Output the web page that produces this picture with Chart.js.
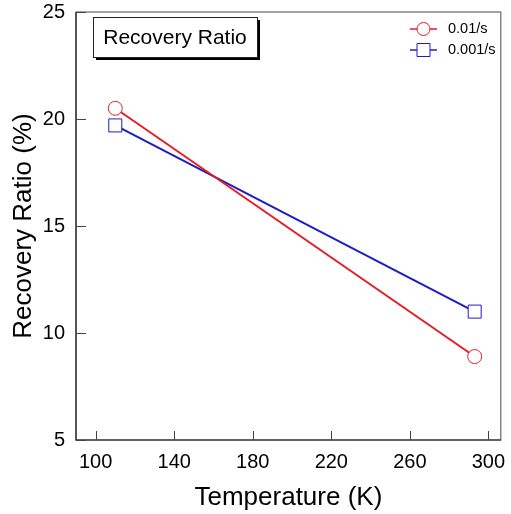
<!DOCTYPE html>
<html><head><meta charset="utf-8">
<script src="https://cdn.jsdelivr.net/npm/chart.js@4"></script>
<style>html,body{margin:0;padding:0;background:#fff}#wrap{width:511px;height:514px}</style>
</head><body><div id="wrap"><canvas id="c" width="511" height="514"></canvas></div>
<script>
const temperatures = [110, 293];
const series001 = [20.5, 8.9];   // 0.01/s
const series0001 = [19.7, 11.0]; // 0.001/s
const seriesNames = ['0.01/s', '0.001/s'];
const xTicks = [100, 140, 180, 220, 260, 300];
const yTicks = [5, 10, 15, 20, 25];
const panelLabel = 'Recovery Ratio';

const RED = 'rgb(228,28,36)', BLUE = 'rgb(28,28,200)';
const FONT = '"Liberation Sans", Arial, sans-serif';

const framePlugin = {
  id: 'frame',
  afterDraw(chart) {
    const {ctx, chartArea: a, scales: {x, y}} = chart;
    ctx.save();
    ctx.strokeStyle = '#666'; ctx.lineWidth = 1.2;
    ctx.strokeRect(a.left, a.top, a.right - a.left, a.bottom - a.top);
    ctx.strokeStyle = '#222';
    ctx.beginPath();
    ctx.moveTo(a.left, a.top); ctx.lineTo(a.left, a.bottom); ctx.lineTo(a.right, a.bottom);
    ctx.stroke();
    // inward ticks
    ctx.strokeStyle = '#444'; ctx.lineWidth = 1;
    ctx.beginPath();
    xTicks.forEach(v => { const px = Math.round(x.getPixelForValue(v)) + 0.5; ctx.moveTo(px, a.bottom); ctx.lineTo(px, a.bottom - 9); });
    yTicks.forEach(v => { const py = Math.round(y.getPixelForValue(v)) + 0.5; ctx.moveTo(a.left, py); ctx.lineTo(a.left + 10, py); });
    ctx.stroke();
    // panel label box with shadow
    const bx = 93, by = 17, bw = 164, bh = 40;
    ctx.fillStyle = '#000'; ctx.fillRect(bx + 3, by + 3, bw, bh);
    ctx.fillStyle = '#fff'; ctx.fillRect(bx, by, bw, bh);
    ctx.strokeStyle = '#222'; ctx.lineWidth = 1; ctx.strokeRect(bx + 0.5, by + 0.5, bw, bh);
    ctx.fillStyle = '#000'; ctx.font = '21px ' + FONT; ctx.textBaseline = 'middle'; ctx.textAlign = 'center';
    ctx.fillText(panelLabel, bx + bw / 2, by + bh / 2 + 1);
    // legend
    const items = [
      {name: seriesNames[0], color: RED, style: 'circle', yy: 29},
      {name: seriesNames[1], color: BLUE, style: 'rect', yy: 50}
    ];
    items.forEach(it => {
      ctx.strokeStyle = it.color; ctx.lineWidth = 1.5;
      ctx.beginPath(); ctx.moveTo(410, it.yy); ctx.lineTo(437, it.yy); ctx.stroke();
      ctx.fillStyle = '#fff';
      ctx.beginPath();
      if (it.style === 'circle') ctx.arc(423.5, it.yy, 6.5, 0, Math.PI * 2);
      else ctx.rect(417, it.yy - 6.5, 13, 13);
      ctx.fill(); ctx.lineWidth = 1; ctx.stroke();
      ctx.fillStyle = '#000'; ctx.font = '14.5px ' + FONT; ctx.textAlign = 'left';
      ctx.fillText(it.name, 448, it.yy);
    });
    ctx.restore();
  }
};

new Chart(document.getElementById('c'), {
  type: 'line',
  data: {
    datasets: [
      {label: seriesNames[0], data: temperatures.map((t, i) => ({x: t, y: series001[i]})),
       borderColor: RED, backgroundColor: '#fff', borderWidth: 2, pointStyle: 'circle',
       pointRadius: 7, pointBorderWidth: 1, pointBorderColor: RED, pointBackgroundColor: '#fff', tension: 0},
      {label: seriesNames[1], data: temperatures.map((t, i) => ({x: t, y: series0001[i]})),
       borderColor: BLUE, backgroundColor: '#fff', borderWidth: 2, pointStyle: 'rect',
       pointRadius: 9.2, pointBorderWidth: 1, pointBorderColor: BLUE, pointBackgroundColor: '#fff', tension: 0}
    ]
  },
  options: {
    responsive: false, animation: false, devicePixelRatio: 1,
    layout: {padding: {left: 0, right: 2, top: 12, bottom: 0}},
    plugins: {legend: {display: false}, tooltip: {enabled: false}},
    scales: {
      x: {
        type: 'linear', min: 90, max: 306.3,
        afterBuildTicks: s => { s.ticks = xTicks.map(v => ({value: v})); },
        afterFit: s => { s.height = 74; s.paddingLeft = 0; s.paddingRight = 0; },
        grid: {display: false, drawTicks: false},
        border: {display: false},
        ticks: {color: '#000', font: {size: 20, family: FONT}, padding: 10},
        title: {display: true, text: 'Temperature (K)', color: '#000', font: {size: 26, family: FONT}, padding: {top: 4, bottom: 1}}
      },
      y: {
        type: 'linear', min: 5, max: 25,
        afterBuildTicks: s => { s.ticks = yTicks.map(v => ({value: v})); },
        afterFit: s => { s.width = 76; s.paddingTop = 0; s.paddingBottom = 0; },
        grid: {display: false, drawTicks: false},
        border: {display: false},
        ticks: {color: '#000', font: {size: 20, family: FONT}, padding: 11},
        title: {display: true, text: 'Recovery Ratio (%)', color: '#000', font: {size: 26, family: FONT}, padding: {top: 8, bottom: 4}}
      }
    }
  },
  plugins: [framePlugin]
});
</script></body></html>
